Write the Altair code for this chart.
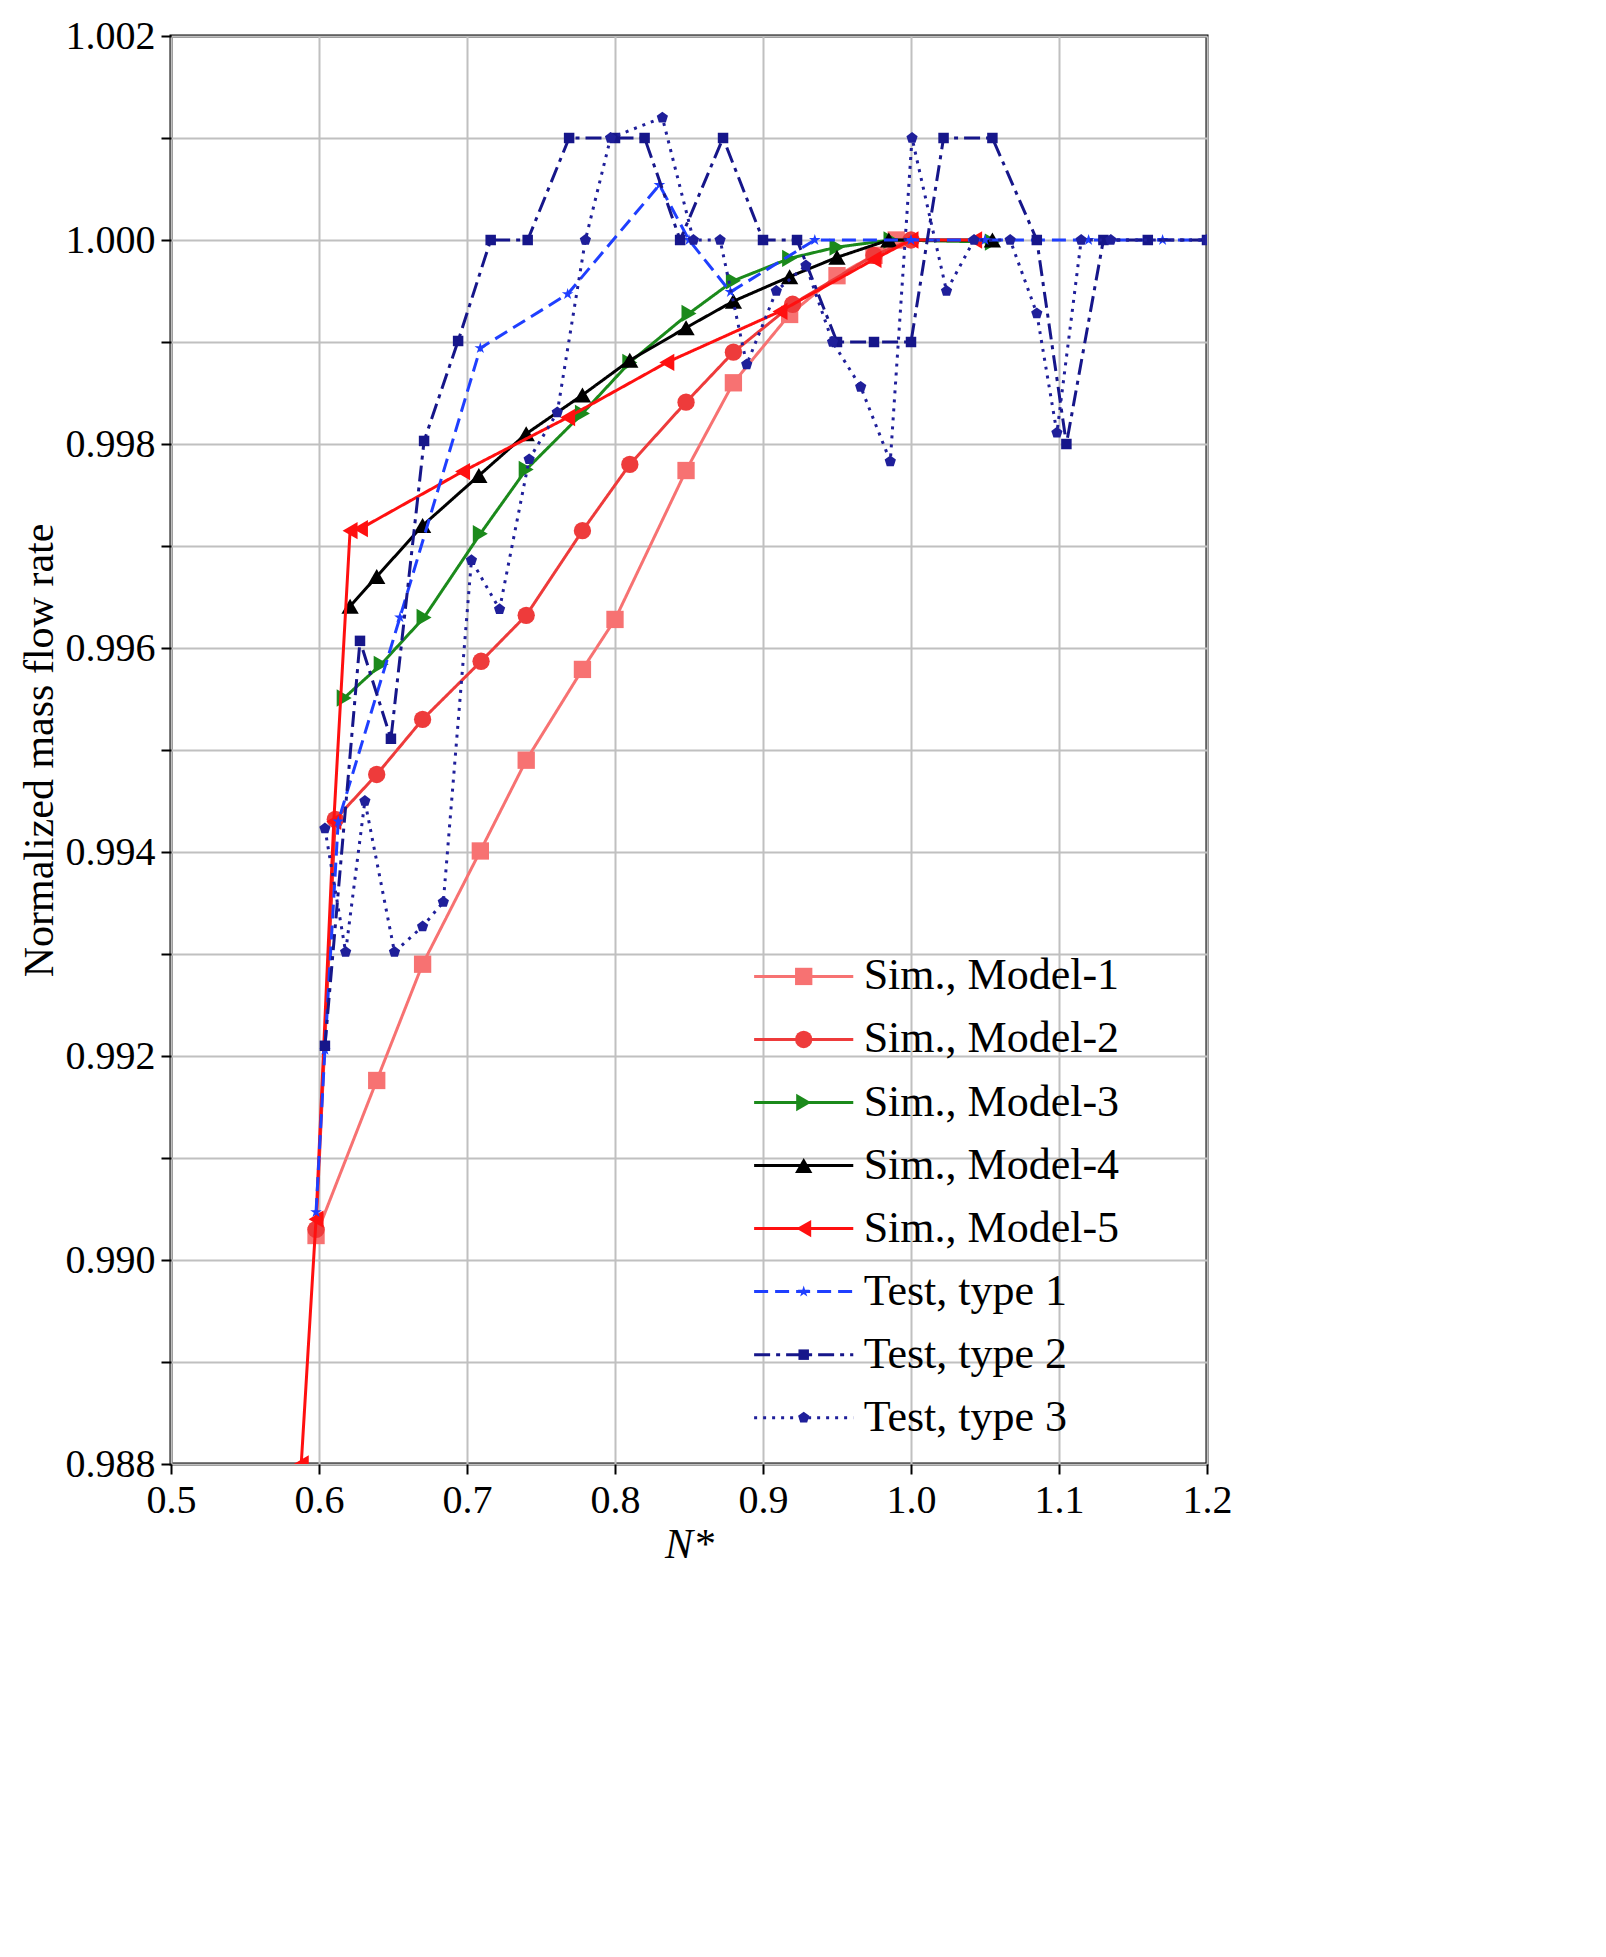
import altair as alt
import pandas as pd

# ---- data ----
m1_x = [0.598, 0.639, 0.67, 0.709, 0.74, 0.778, 0.80, 0.848, 0.88, 0.918, 0.95, 0.975, 0.99]
m1_y = [0.99024, 0.99176, 0.9929, 0.99401, 0.9949, 0.99579, 0.99628, 0.99774, 0.9986, 0.99927, 0.99965, 0.99985, 1.0]
m2_x = [0.598, 0.611, 0.639, 0.67, 0.7095, 0.74, 0.778, 0.81, 0.848, 0.88, 0.92, 0.975, 1.0]
m2_y = [0.9903, 0.99432, 0.99476, 0.9953, 0.99587, 0.99632, 0.99715, 0.9978, 0.99841, 0.9989, 0.99937, 0.99985, 1.0]
m3_x = [0.617, 0.642, 0.671, 0.709, 0.74, 0.778, 0.81, 0.85, 0.88, 0.918, 0.95, 0.9865, 1.055]
m3_y = [0.99551, 0.99584, 0.9963, 0.99712, 0.99775, 0.9983, 0.9988, 0.99928, 0.9996, 0.99982, 0.99993, 1.0, 0.99998]
m4_x = [0.621, 0.639, 0.67, 0.708, 0.74, 0.778, 0.81, 0.848, 0.88, 0.918, 0.95, 0.985, 1.055]
m4_y = [0.99641, 0.9967, 0.9972, 0.99769, 0.9981, 0.99848, 0.99882, 0.99914, 0.9994, 0.99964, 0.99983, 1.0, 1.0]
m5_x = [0.588, 0.598, 0.61, 0.621, 0.628, 0.697, 0.768, 0.835, 0.9115, 0.975, 1.0, 1.043]
m5_y = [0.988, 0.9904, 0.9943, 0.99715, 0.99717, 0.99773, 0.99826, 0.9988, 0.9993, 0.99981, 1.0, 1.0]
t1_x = [0.598, 0.604, 0.613, 0.6547, 0.709, 0.768, 0.830, 0.85, 0.878, 0.935, 1.0, 1.05, 1.12, 1.17, 1.2]
t1_y = [0.99047, 0.99206, 0.9943, 0.9963, 0.99894, 0.99947, 1.00054, 1.0, 0.99949, 1.0, 1.0, 1.0, 1.0, 1.0, 1.0]
t2_x = [0.604, 0.6277, 0.6486, 0.671, 0.694, 0.716, 0.741, 0.769, 0.80, 0.82, 0.844, 0.873, 0.90, 0.923, 0.95, 0.975,
        1.0, 1.022, 1.055, 1.085, 1.105, 1.13, 1.16, 1.2]
t2_y = [0.9921, 0.99607, 0.99511, 0.99803, 0.99901, 1.0, 1.0, 1.001, 1.001, 1.001, 1.0, 1.001, 1.0, 1.0, 0.999, 0.999,
        0.999, 1.001, 1.001, 1.0, 0.998, 1.0, 1.0, 1.0]
t3_x = [0.604, 0.618, 0.631, 0.651, 0.670, 0.684, 0.703, 0.722, 0.742, 0.761, 0.780, 0.797, 0.832, 0.853, 0.871,
        0.889, 0.909, 0.929, 0.947, 0.966, 0.986, 1.0007, 1.024, 1.0426, 1.067, 1.085, 1.0986, 1.115, 1.135, 1.2]
t3_y = [0.99423, 0.99302, 0.9945, 0.99302, 0.99327, 0.99351, 0.99686, 0.99638, 0.99785, 0.99831, 1.0, 1.001, 1.0012,
        1.0, 1.0, 0.99878, 0.9995, 0.99975, 0.9990, 0.99856, 0.99783, 1.001, 0.9995, 1.0, 1.0, 0.99928, 0.99811, 1.0,
        1.0, 1.0]

STAR = "M0,-1L0.22,-0.31L0.95,-0.31L0.36,0.12L0.59,0.81L0,0.38L-0.59,0.81L-0.36,0.12L-0.95,-0.31L-0.22,-0.31Z"
PENT = "M0,-1L0.95,-0.31L0.59,0.81L-0.59,0.81L-0.95,-0.31Z"

series = [
    ("Sim., Model-1", m1_x, m1_y, "#f77272", "square", [1, 0], 300),
    ("Sim., Model-2", m2_x, m2_y, "#ee3b3b", "circle", [1, 0], 300),
    ("Sim., Model-3", m3_x, m3_y, "#1b8a1b", "triangle-right", [1, 0], 300),
    ("Sim., Model-4", m4_x, m4_y, "#000000", "triangle-up", [1, 0], 300),
    ("Sim., Model-5", m5_x, m5_y, "#ff1010", "triangle-left", [1, 0], 300),
    ("Test, type 1", t1_x, t1_y, "#1f3fff", STAR, [14, 7], 150),
    ("Test, type 2", t2_x, t2_y, "#16168a", "square", [16, 6, 4, 6], 110),
    ("Test, type 3", t3_x, t3_y, "#1f1f9a", PENT, [3, 6], 140),
]

FONT = "Liberation Serif"
xs = alt.Scale(domain=[0.5, 1.2], nice=False)
ys = alt.Scale(domain=[0.988, 1.002], nice=False)

xe = alt.X("x:Q", scale=xs, title="N*",
           axis=alt.Axis(values=[0.5, 0.6, 0.7, 0.8, 0.9, 1.0, 1.1, 1.2], format=".1f",
                         gridColor="#c0c0c0", gridWidth=2, tickColor="black", tickWidth=2,
                         tickSize=10, labelPadding=6, titleFontStyle="italic", domain=False))
ye = alt.Y("y:Q", scale=ys, title="Normalized mass flow rate",
           axis=alt.Axis(values=[0.988 + 0.001 * k for k in range(15)], format=".3f",
                         labelExpr="(round(datum.value*1000)%2==0) ? datum.label : ''",
                         gridColor="#c0c0c0", gridWidth=2, tickColor="black", tickWidth=2,
                         tickSize=10, labelPadding=6, domain=False))

layers = []
for i, (name, x, y, col, shape, dash, size) in enumerate(series):
    df = pd.DataFrame({"x": x, "y": y})
    base = alt.Chart(df).encode(x=xe, y=ye)
    line = base.mark_line(color=col, strokeWidth=3, strokeDash=dash, clip=True)
    pts = base.mark_point(shape=shape, filled=True, color=col, size=size, opacity=1, clip=True)
    layers += [line, pts]

# ---- in-plot legend, rows placed in data space from the row index ----
for r, (name, x, y, col, shape, dash, size) in enumerate(series):
    seg = alt.Chart(pd.DataFrame({"p": [0.0, 1.0], "r": [r, r], "t": [name, name]})).transform_calculate(
        x="0.894 + datum.p * 0.067", y="0.99278 - datum.r * 0.000618"
    )
    layers.append(seg.mark_line(color=col, strokeWidth=3, strokeDash=dash).encode(x=xe, y=ye))
    layers.append(
        seg.transform_filter("datum.p == 1").transform_calculate(x="0.9275")
        .mark_point(shape=shape, filled=True, color=col, size=size, opacity=1).encode(x=xe, y=ye)
    )
    layers.append(
        seg.transform_filter("datum.p == 1").transform_calculate(x="0.968")
        .mark_text(align="left", baseline="middle", font=FONT, fontSize=44, color="black")
        .encode(x=xe, y=ye, text="t:N")
    )

chart = (
    alt.layer(*layers)
    .properties(width=1036, height=1428, padding={"left": 10, "top": 8, "right": 30, "bottom": 5})
    .configure_view(stroke="black", strokeWidth=3)
    .configure_axis(labelFont=FONT, titleFont=FONT, labelFontSize=40, titleFontSize=42,
                    labelColor="black", titleColor="black", titleFontWeight="normal")
    .configure_axisX(labelFlush=False)
)

chart.save("out.html", embed_options={"renderer": "svg", "actions": False})
